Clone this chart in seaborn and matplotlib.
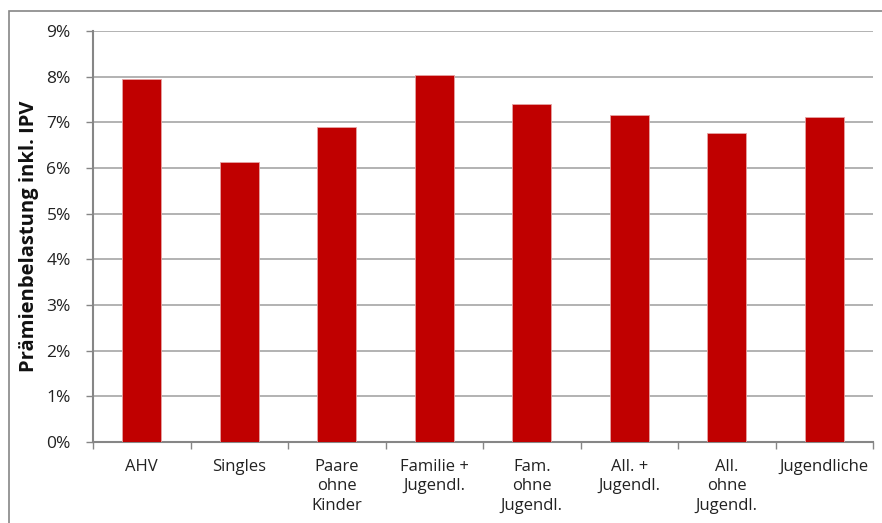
import matplotlib
matplotlib.use("Agg")
import matplotlib.pyplot as plt
import seaborn as sns
import pandas as pd
import numpy as np
from matplotlib.patches import Rectangle
from matplotlib.ticker import FixedLocator

categories = ["AHV", "Singles", "Paare\nohne\nKinder", "Familie +\nJugendl.",
              "Fam.\nohne\nJugendl.", "All. +\nJugendl.", "All.\nohne\nJugendl.", "Jugendliche"]
values = [7.94, 6.13, 6.90, 8.03, 7.40, 7.17, 6.76, 7.12]
yticks = [0, 1, 2, 3, 4, 5, 6, 7, 8, 9]
ytick_labels = [f"{v}%" for v in yticks]
ylabel = "Prämienbelastung inkl. IPV"

sns.set_theme(style="white")
plt.rcParams['font.family'] = ['Open Sans', 'DejaVu Sans']

df = pd.DataFrame({"cat": categories, "val": values})

fig = plt.figure(figsize=(8.82, 5.23), dpi=100)
ax = fig.add_axes([93/882, 1-442/523, 780/882, 411/523])

sns.barplot(data=df, x="cat", y="val", order=categories, color="#C00000",
            width=0.4, ax=ax, saturation=1, edgecolor="#E6A3A3", linewidth=0.6, zorder=3)

ax.set_xlim(-0.5, len(categories) - 0.5)
ax.set_ylim(0, 9)
ax.set_yticks(yticks)
ax.set_yticklabels(ytick_labels, fontsize=12.5, color="#222222")
ax.set_xticks(range(len(categories)))
ax.set_xticklabels(categories, fontsize=12, color="#222222", linespacing=1.3, va="top")
ax.xaxis.set_minor_locator(FixedLocator(np.arange(-0.5, len(categories), 1)))
ax.tick_params(axis="x", which="major", length=0, pad=12)
ax.tick_params(axis="x", which="minor", length=5, color="#868686", width=1, direction="out", bottom=True)
ax.tick_params(axis="y", length=5, color="#868686", width=1, direction="out", left=True, pad=11)

ax.grid(axis="y", color="#A6A6A6", linewidth=1.2, zorder=0)
ax.set_axisbelow(True)
for s in ["top", "right"]:
    ax.spines[s].set_visible(False)
for s in ["left", "bottom"]:
    ax.spines[s].set_color("#868686")
    ax.spines[s].set_linewidth(1.5)

ax.set_xlabel("")
ax.set_ylabel(ylabel, fontsize=14.5, fontweight="bold", color="#111111", labelpad=5)

fig.patches.append(Rectangle((9/882, -0.1), 1.2, 1 - 11/523 + 0.1, transform=fig.transFigure,
                             fill=False, edgecolor="#868686", linewidth=1.2))

fig.savefig("out.png", dpi=100)
